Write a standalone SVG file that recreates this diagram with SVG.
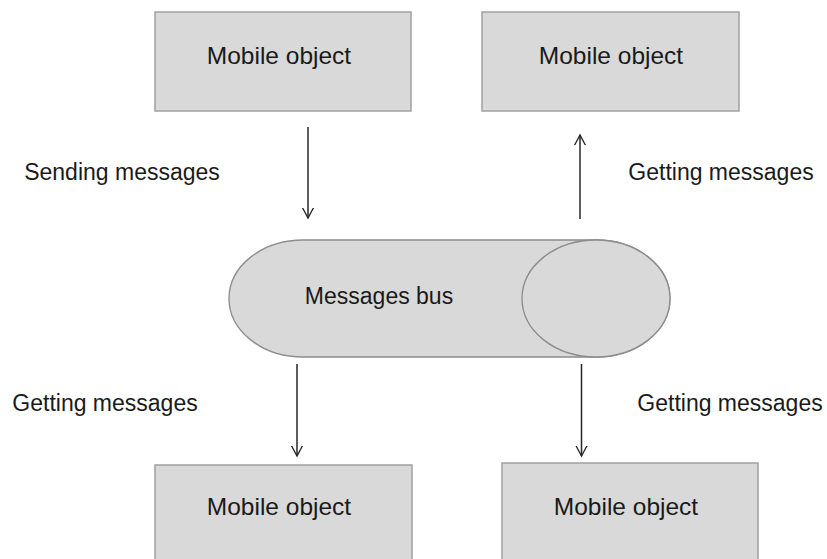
<svg xmlns="http://www.w3.org/2000/svg" width="827" height="559" viewBox="0 0 827 559">
<defs>
<marker id="arr" markerWidth="20" markerHeight="20" refX="10" refY="10" orient="auto" markerUnits="userSpaceOnUse">
<path d="M-5,2 L10,10 L-5,18" fill="none" stroke="#262626" stroke-width="1.3"/>
</marker>
<style>
.box{fill:#d9d9d9;stroke:#a0a0a0;stroke-width:1.5}
.bus{fill:#d9d9d9;stroke:#8c8c8c;stroke-width:1.3}
.t{font-family:"Liberation Sans",Arial,sans-serif;font-size:23px;fill:#1a1a1a}
.m{font-size:24.5px}
.c{stroke:#262626;stroke-width:1.5;fill:none;marker-end:url(#arr)}
</style>
</defs>
<rect width="827" height="559" fill="#ffffff"/>
<g id="mobile1">
<rect class="box" x="155" y="12" width="256" height="99"/>
<text class="t m" x="279" y="64" text-anchor="middle">Mobile object</text>
</g>
<g id="mobile2">
<rect class="box" x="482" y="12" width="257" height="99"/>
<text class="t m" x="611" y="64" text-anchor="middle">Mobile object</text>
</g>
<g id="bus">
<path class="bus" d="M303,240 L596,240 A74,58.5 0 0 1 596,357 L303,357 A74,58.5 0 0 1 303,240 Z"/>
<ellipse class="bus" cx="596" cy="298.5" rx="74" ry="58.5"/>
<text class="t" x="379" y="304" text-anchor="middle">Messages bus</text>
</g>
<g id="mobile3">
<rect class="box" x="155" y="465" width="257" height="100"/>
<text class="t m" x="279" y="515" text-anchor="middle">Mobile object</text>
</g>
<g id="mobile4">
<rect class="box" x="502" y="463" width="256" height="100"/>
<text class="t m" x="626" y="515" text-anchor="middle">Mobile object</text>
</g>
<g id="connectors">
<line class="c" x1="308" y1="127" x2="308" y2="218"/>
<line class="c" x1="580" y1="219" x2="580" y2="135"/>
<line class="c" x1="297" y1="364" x2="297" y2="456"/>
<line class="c" x1="581.5" y1="364" x2="581.5" y2="456"/>
</g>
<g id="labels">
<text class="t" x="122" y="180" text-anchor="middle">Sending messages</text>
<text class="t" x="721" y="180" text-anchor="middle">Getting messages</text>
<text class="t" x="105" y="411" text-anchor="middle">Getting messages</text>
<text class="t" x="730" y="411" text-anchor="middle">Getting messages</text>
</g>
</svg>
